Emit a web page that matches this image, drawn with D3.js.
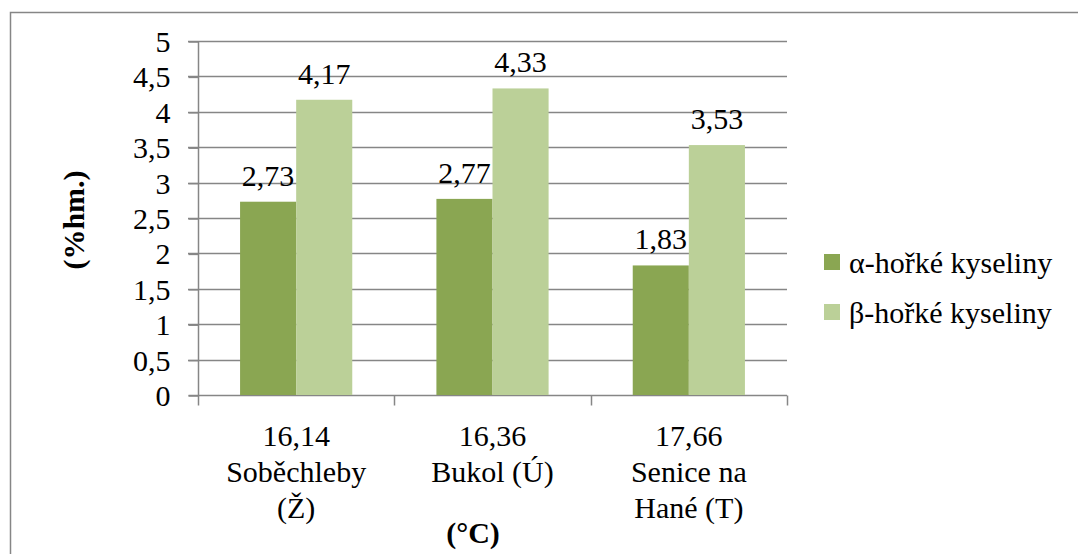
<!DOCTYPE html>
<html><head><meta charset="utf-8"><script src="https://cdn.jsdelivr.net/npm/d3@7"></script>
<style>
  svg text { font-family: "Liberation Serif", "Tinos", "Times New Roman", "DejaVu Serif", serif !important; font-weight: 400; }
  svg text.b { font-weight: 700; }
</style>
</head>
<body style="margin:0">
<svg id="chart" width="1078" height="554"></svg>
<script>
const categories = [["16,14", "Soběchleby", "(Ž)"], ["16,36", "Bukol (Ú)"], ["17,66", "Senice na", "Hané (T)"]];
const seriesNames = ["α-hořké kyseliny", "β-hořké kyseliny"];
const alphaValues = [2.73, 2.77, 1.83];
const betaValues = [4.17, 4.33, 3.53];
const yTicks = [0, 0.5, 1, 1.5, 2, 2.5, 3, 3.5, 4, 4.5, 5];
const colors = ["#8AA652", "#BBD098"];

(function () {
const svg = d3.select("#chart");
const fmt = v => String(v).replace(".", ",");
const gridColor = "#868686";
const fs = 30;
const txt = sel => sel.attr("font-size", fs).attr("fill", "#000");

svg.append("rect").attr("x", 10.5).attr("y", 12.5).attr("width", 1100).attr("height", 600)
  .attr("fill", "none").attr("stroke", gridColor).attr("stroke-width", 1.5);

const pl = 198, pr = 787, pt = 41, pb = 395;
const x0 = d3.scaleBand().domain(d3.range(categories.length)).range([pl, pr]).paddingInner(0).paddingOuter(0);
const y = d3.scaleLinear().domain([0, 5]).range([pb, pt]);
const gap = x0.bandwidth() * 0.75 / 3.5;
const x1 = d3.scaleBand().domain([0, 1]).range([gap, x0.bandwidth() - gap]);

svg.append("g").selectAll("line").data(yTicks.filter(t => t > 0)).join("line")
  .attr("x1", pl - 10).attr("x2", pr).attr("y1", d => Math.round(y(d)) + 0.5).attr("y2", d => Math.round(y(d)) + 0.5)
  .attr("stroke", gridColor).attr("stroke-width", 1.5);

const yAxis = d3.axisLeft(y).tickValues(yTicks).tickFormat(fmt).tickSize(10).tickPadding(18);
const gy = svg.append("g").attr("transform", `translate(${pl + 0.5},0.5)`).call(yAxis);
gy.attr("font-family", null).attr("font-size", fs);
gy.select(".domain").attr("stroke", gridColor).attr("stroke-width", 1.5).attr("d", `M-10,${pb}H0V${pt}`);
gy.selectAll(".tick line").attr("stroke", gridColor).attr("stroke-width", 1.5);
gy.selectAll(".tick text").attr("dy", "0.33em").call(txt);

const gx = svg.append("g").attr("transform", `translate(0,${pb + 0.5})`);
gx.append("line").attr("x1", pl).attr("x2", pr).attr("stroke", gridColor).attr("stroke-width", 1.5);
const xTicks = d3.range(categories.length + 1).map(i => pl + i * x0.bandwidth());
gx.selectAll("line.t").data(xTicks).join("line").attr("class", "t")
  .attr("x1", d => Math.round(d) + 0.5).attr("x2", d => Math.round(d) + 0.5).attr("y1", 0).attr("y2", 10)
  .attr("stroke", gridColor).attr("stroke-width", 1.5);

const series = [alphaValues, betaValues];
series.forEach((vals, si) => {
  svg.append("g").selectAll("rect").data(vals).join("rect")
    .attr("x", (d, i) => x0(i) + x1(si))
    .attr("width", x1.bandwidth())
    .attr("y", d => y(d))
    .attr("height", d => pb - y(d))
    .attr("fill", colors[si]);
  svg.append("g").selectAll("text").data(vals).join("text")
    .attr("x", (d, i) => x0(i) + x1(si) + x1.bandwidth() / 2)
    .attr("y", d => y(d) - 16)
    .attr("text-anchor", "middle").call(txt)
    .text(d => fmt(d.toFixed(2)));
});

categories.forEach((lines, i) => {
  lines.forEach((ln, j) => {
    svg.append("text").attr("text-anchor", "middle").call(txt)
      .attr("x", x0(i) + x0.bandwidth() / 2).attr("y", 446 + j * 36).text(ln);
  });
});

svg.append("text").attr("class", "b").attr("x", 473).attr("y", 543).attr("text-anchor", "middle")
  .call(txt).text("(°C)");
svg.append("text").attr("class", "b").attr("transform", "translate(84,220) rotate(-90)").attr("text-anchor", "middle")
  .call(txt).text("(%hm.)");

seriesNames.forEach((name, i) => {
  const ly = 254 + i * 50;
  svg.append("rect").attr("x", 824).attr("y", ly).attr("width", 16).attr("height", 16).attr("fill", colors[i]);
  svg.append("text").attr("x", 849).attr("y", ly + 19).call(txt).text(name);
});
})();
</script>
</body>
</html>
